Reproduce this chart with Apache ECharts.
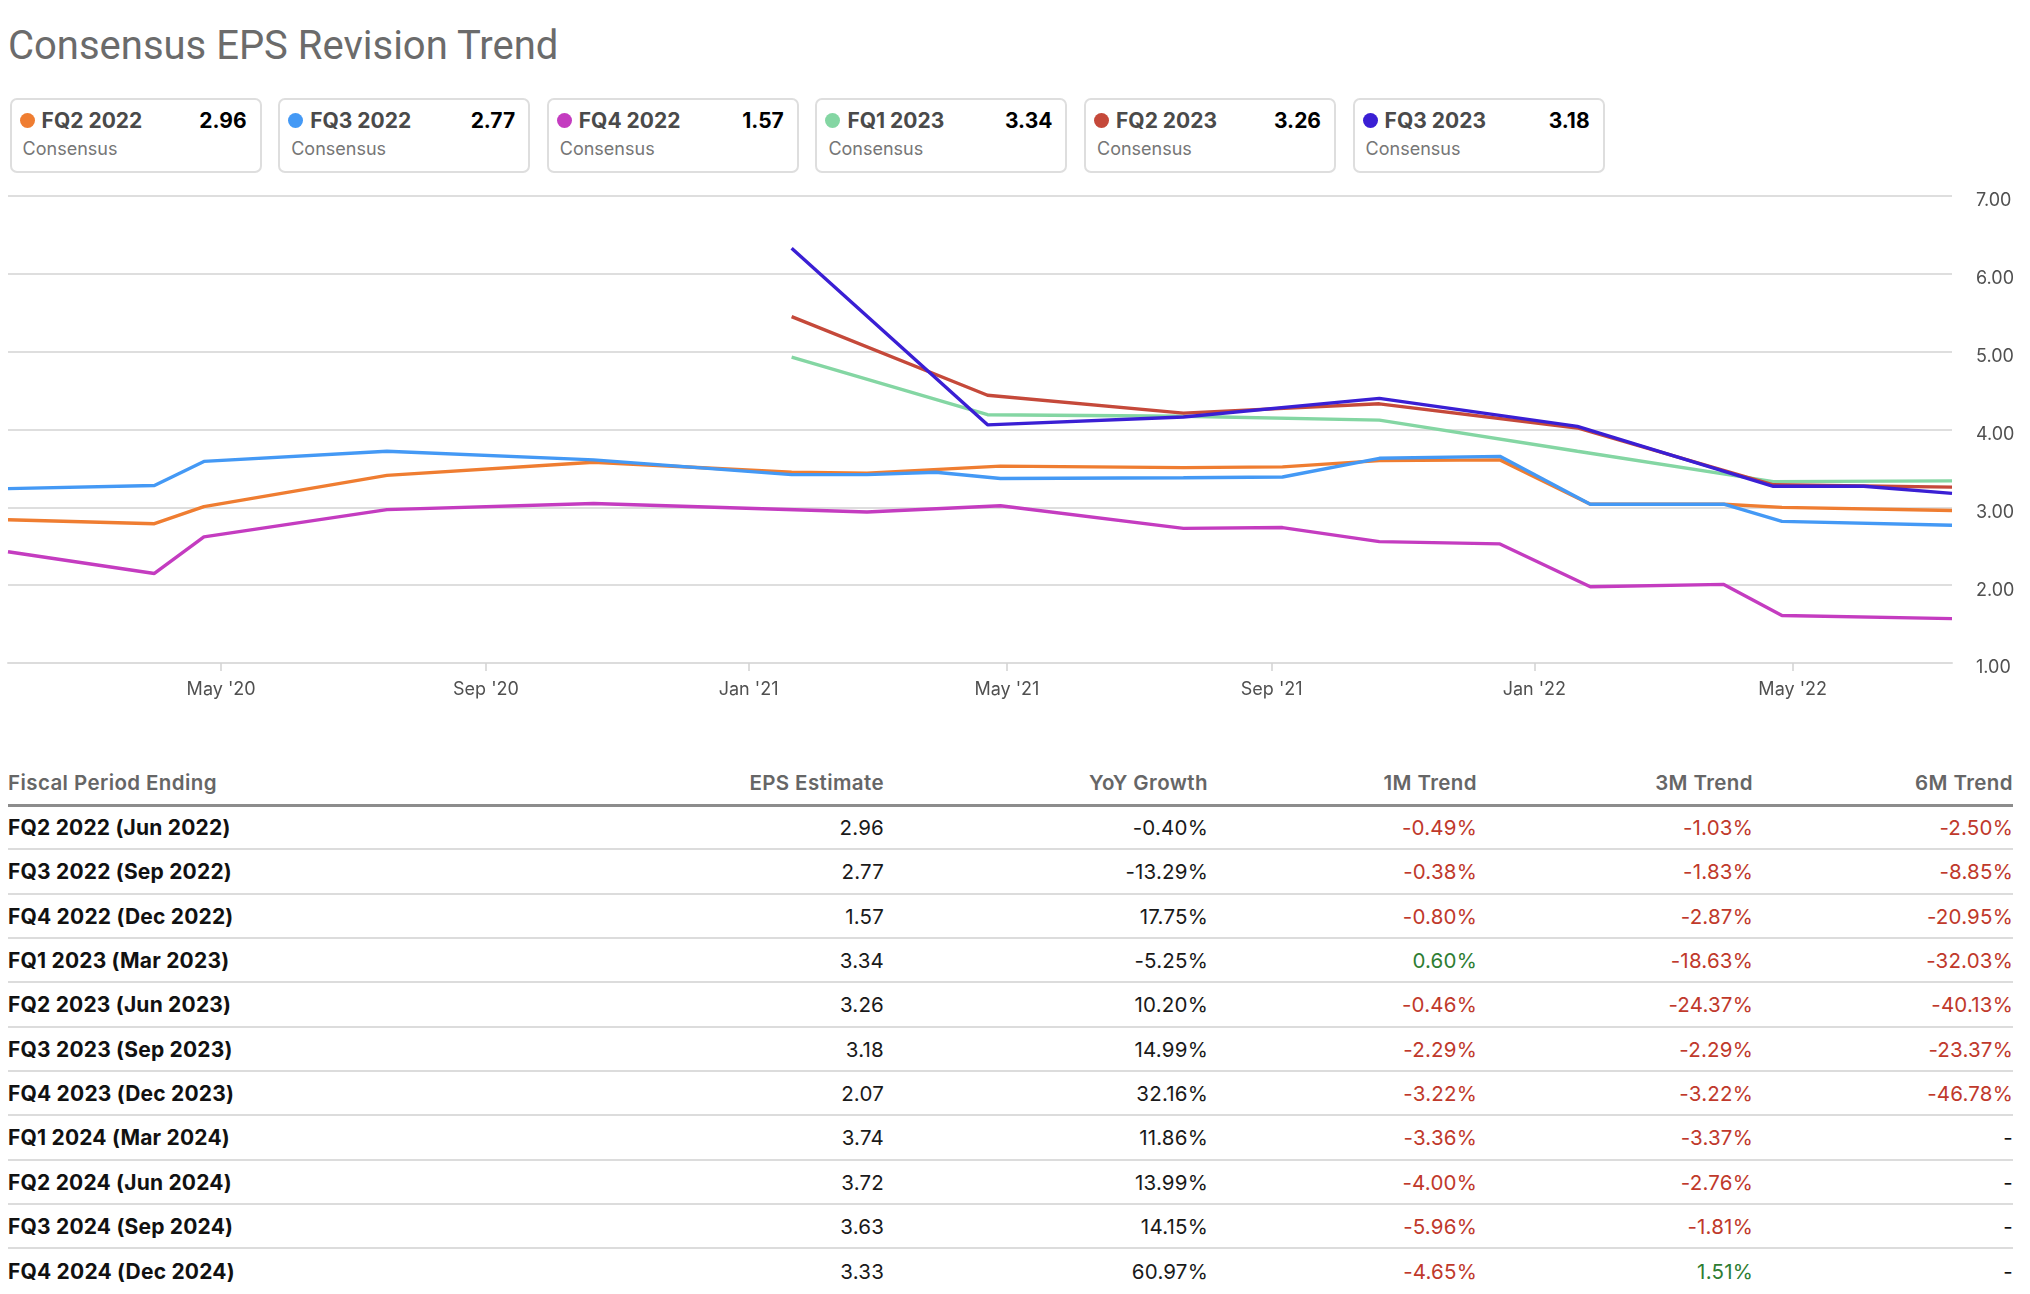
<!DOCTYPE html>
<html>
<head>
<meta charset="utf-8">
<script src="https://cdn.jsdelivr.net/npm/echarts@6/dist/echarts.min.js"></script>
<style>
html,body{margin:0;padding:0;background:#fff;}
body{width:2030px;height:1294px;position:relative;overflow:hidden;font-family:Inter,"Noto Sans",sans-serif;}
#title{position:absolute;left:8px;top:21px;height:50px;line-height:50px;font-family:Roboto,Inter,sans-serif;font-size:40px;color:#6b6b6b;white-space:nowrap;}
.card{position:absolute;top:98px;width:252px;height:75px;box-sizing:border-box;border:2px solid #dedede;border-radius:7px;background:#fff;}
.dot{position:absolute;left:8px;top:13px;width:15px;height:15px;border-radius:50%;}
.clabel{position:absolute;left:30px;top:8.5px;height:24px;line-height:24px;font-weight:700;font-size:21px;color:#4a4a4a;white-space:nowrap;}
.cval{position:absolute;right:13px;top:8.5px;height:24px;line-height:24px;font-weight:700;font-size:21px;color:#000;white-space:nowrap;}
.csub{position:absolute;left:11px;top:38px;height:22px;line-height:22px;font-size:18px;color:#767676;white-space:nowrap;}
#chart{position:absolute;left:0;top:180px;width:2030px;height:540px;}
.th{position:absolute;top:770px;height:26px;line-height:26px;font-size:20.5px;font-weight:600;color:#666;white-space:nowrap;letter-spacing:0.4px;}
.td{position:absolute;height:42px;line-height:42px;font-size:20.5px;color:#1a1a1a;white-space:nowrap;letter-spacing:0.2px;}
.td.lbl{font-weight:700;color:#111;font-size:21px;letter-spacing:0.2px;}
.hline{position:absolute;left:8px;width:2005px;}
</style>
</head>
<body>
<div id="title">Consensus EPS Revision Trend</div>
<div id="cards"></div>
<div id="chart"></div>
<div id="table"></div>
<script>
// ---------- Chart data ----------
const seriesNames = ['FQ2 2022', 'FQ3 2022', 'FQ4 2022', 'FQ1 2023', 'FQ2 2023', 'FQ3 2023'];
const consensusValues = ['2.96', '2.77', '1.57', '3.34', '3.26', '3.18'];

const datesFQ2_2022 = ['2020-01-23','2020-03-31','2020-04-23','2020-07-17','2020-10-21','2021-01-21','2021-02-25','2021-04-28','2021-07-22','2021-09-06','2021-10-21','2021-12-16','2022-01-27','2022-03-30','2022-04-26','2022-07-14'];
const epsFQ2_2022   = [2.84, 2.79, 3.01, 3.41, 3.58, 3.45, 3.44, 3.53, 3.51, 3.52, 3.60, 3.61, 3.04, 3.04, 3.00, 2.96];

const datesFQ3_2022 = ['2020-01-23','2020-03-31','2020-04-23','2020-07-17','2020-10-21','2021-01-21','2021-02-25','2021-03-29','2021-04-28','2021-07-22','2021-09-06','2021-10-21','2021-12-16','2022-01-27','2022-03-30','2022-04-26','2022-07-14'];
const epsFQ3_2022   = [3.24, 3.28, 3.59, 3.72, 3.61, 3.42, 3.42, 3.45, 3.37, 3.38, 3.39, 3.63, 3.655, 3.04, 3.04, 2.82, 2.77];

const datesFQ4_2022 = ['2020-01-23','2020-03-31','2020-04-23','2020-07-17','2020-10-21','2021-02-25','2021-04-28','2021-07-22','2021-09-06','2021-10-21','2021-12-16','2022-01-27','2022-03-30','2022-04-26','2022-07-14'];
const epsFQ4_2022   = [2.43, 2.15, 2.62, 2.97, 3.05, 2.94, 3.02, 2.73, 2.74, 2.56, 2.53, 1.98, 2.01, 1.61, 1.57];

const datesFQ1_2023 = ['2021-01-21','2021-04-22','2021-07-22','2021-10-21','2022-01-21','2022-04-22','2022-07-14'];
const epsFQ1_2023   = [4.93, 4.19, 4.17, 4.12, 3.72, 3.33, 3.34];

const datesFQ2_2023 = ['2021-01-21','2021-04-22','2021-07-22','2021-10-21','2022-01-21','2022-04-22','2022-07-14'];
const epsFQ2_2023   = [5.45, 4.44, 4.21, 4.33, 4.02, 3.29, 3.26];

const datesFQ3_2023 = ['2021-01-21','2021-04-22','2021-07-22','2021-10-21','2022-01-21','2022-04-22','2022-06-03','2022-07-14'];
const epsFQ3_2023   = [6.33, 4.06, 4.16, 4.40, 4.04, 3.27, 3.27, 3.18];

const xTickDates  = ['2020-05-01','2020-09-01','2021-01-01','2021-05-01','2021-09-01','2022-01-01','2022-05-01'];
const xTickLabels = ["May '20","Sep '20","Jan '21","May '21","Sep '21","Jan '22","May '22"];
const xRange = ['2020-01-23', '2022-07-14'];

// ---------- Table data ----------
const tableHeaders = ['Fiscal Period Ending','EPS Estimate','YoY Growth','1M Trend','3M Trend','6M Trend'];
const periods   = ['FQ2 2022 (Jun 2022)','FQ3 2022 (Sep 2022)','FQ4 2022 (Dec 2022)','FQ1 2023 (Mar 2023)','FQ2 2023 (Jun 2023)','FQ3 2023 (Sep 2023)','FQ4 2023 (Dec 2023)','FQ1 2024 (Mar 2024)','FQ2 2024 (Jun 2024)','FQ3 2024 (Sep 2024)','FQ4 2024 (Dec 2024)'];
const epsEstimate = ['2.96','2.77','1.57','3.34','3.26','3.18','2.07','3.74','3.72','3.63','3.33'];
const yoyGrowth = ['-0.40%','-13.29%','17.75%','-5.25%','10.20%','14.99%','32.16%','11.86%','13.99%','14.15%','60.97%'];
const trend1M   = ['-0.49%','-0.38%','-0.80%','0.60%','-0.46%','-2.29%','-3.22%','-3.36%','-4.00%','-5.96%','-4.65%'];
const trend3M   = ['-1.03%','-1.83%','-2.87%','-18.63%','-24.37%','-2.29%','-3.22%','-3.37%','-2.76%','-1.81%','1.51%'];
const trend6M   = ['-2.50%','-8.85%','-20.95%','-32.03%','-40.13%','-23.37%','-46.78%','-','-','-','-'];

// ---------- Styles ----------
const colors = ['#ef7d31', '#4499f5', '#c43cc0', '#84d6a3', '#c5493a', '#3a1fd4'];

// ---------- Cards ----------
const cardsEl = document.getElementById('cards');
seriesNames.forEach((name, i) => {
  const c = document.createElement('div');
  c.className = 'card';
  c.style.left = (9.6 + i * 268.6) + 'px';
  c.innerHTML = '<div class="dot" style="background:' + colors[i] + '"></div>' +
    '<div class="clabel">' + name + '</div>' +
    '<div class="cval">' + consensusValues[i] + '</div>' +
    '<div class="csub">Consensus</div>';
  cardsEl.appendChild(c);
});

// ---------- Chart ----------
const ts = s => new Date(s + 'T00:00:00Z').getTime();
const tickTs = xTickDates.map(ts);
const allDates = [datesFQ2_2022, datesFQ3_2022, datesFQ4_2022, datesFQ1_2023, datesFQ2_2023, datesFQ3_2023];
const allVals  = [epsFQ2_2022, epsFQ3_2022, epsFQ4_2022, epsFQ1_2023, epsFQ2_2023, epsFQ3_2023];

const chart = echarts.init(document.getElementById('chart'));
chart.setOption({
  animation: false,
  grid: { left: 8, right: 78, top: 16, bottom: 57, containLabel: false },
  xAxis: {
    type: 'value',
    min: ts(xRange[0]),
    max: ts(xRange[1]),
    axisLine: { show: true, onZero: false, lineStyle: { color: '#dcdcdc', width: 2 } },
    axisTick: { show: true, customValues: tickTs, length: 8, lineStyle: { color: '#d2d2d2', width: 1.5 } },
    axisLabel: {
      customValues: tickTs,
      formatter: function (v) {
        let best = 0, bd = Infinity;
        tickTs.forEach((t, i) => { const d = Math.abs(t - v); if (d < bd) { bd = d; best = i; } });
        return xTickLabels[best];
      },
      color: '#505050', fontSize: 18, fontFamily: 'Inter', margin: 18
    },
    splitLine: { show: false }
  },
  yAxis: {
    type: 'value',
    position: 'right',
    min: 1, max: 7, interval: 1,
    axisLine: { show: false },
    axisTick: { show: false },
    axisLabel: {
      formatter: v => v.toFixed(2),
      color: '#505050', fontSize: 18, fontFamily: 'Inter', margin: 24, align: 'left',
      verticalAlign: 'top', lineHeight: 10
    },
    splitLine: { show: true, lineStyle: { color: '#dedede', width: 2 } }
  },
  series: seriesNames.map((name, i) => ({
    name: name,
    type: 'line',
    showSymbol: false,
    symbol: 'none',
    smooth: false,
    lineStyle: { width: 3.4, color: colors[i] },
    itemStyle: { color: colors[i] },
    data: allDates[i].map((d, k) => [ts(d), allVals[i][k]])
  }))
});

// ---------- Table ----------
const tableEl = document.getElementById('table');
const colRight = [null, 884, 1208, 1477, 1753, 2013];
function addDiv(cls, text, styles) {
  const d = document.createElement('div');
  d.className = cls;
  d.textContent = text;
  Object.assign(d.style, styles);
  tableEl.appendChild(d);
  return d;
}
tableHeaders.forEach((h, c) => {
  if (c === 0) addDiv('th', h, { left: '8px' });
  else addDiv('th', h, { right: (2030 - colRight[c]) + 'px' });
});
addDiv('hline', '', { top: '804px', height: '3px', background: '#8c8c8c' });

const red = '#c0392b', green = '#2e7d32';
const trendColor = s => (s === '-' ? '#111' : (s.charAt(0) === '-' ? red : green));
periods.forEach((p, i) => {
  const top = 807 + i * 44.35;
  addDiv('td lbl', p, { left: '8px', top: top + 'px' });
  const cells = [epsEstimate[i], yoyGrowth[i], trend1M[i], trend3M[i], trend6M[i]];
  cells.forEach((v, k) => {
    const c = k + 1;
    const st = { right: (2030 - colRight[c]) + 'px', top: top + 'px' };
    if (c >= 3) st.color = trendColor(v);
    addDiv('td', v, st);
  });
  if (i < periods.length - 1) addDiv('hline', '', { top: (top + 41.3) + 'px', height: '2px', background: '#dcdcdc' });
});
</script>
</body>
</html>
